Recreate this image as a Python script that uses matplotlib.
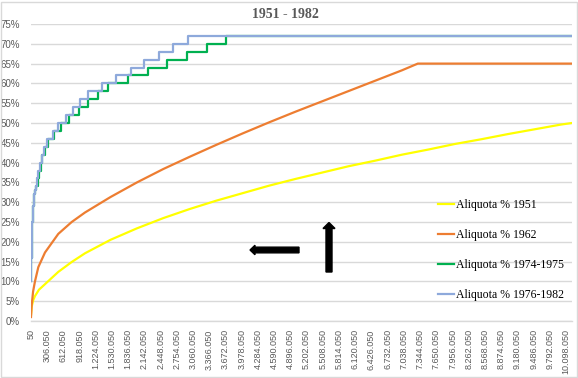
import numpy as np
import matplotlib
matplotlib.use("Agg")
import matplotlib.pyplot as plt
from matplotlib.patches import FancyArrow, Rectangle

# income (lire) vs tax rate (%)
x_end = 10210050

inc_1951 = [50, 13050, 40050, 75050, 150050, 264050, 515050, 768050, 1019050,
            1500050, 2000050, 2500050, 3000050, 3500050, 4000050, 4500050,
            5000050, 5500050, 6000050, 6500050, 7000050, 7500050, 8000050,
            8500050, 9000050, 9500050, 10000050, 10210050]
rate_1951 = [1.5, 3.6, 5.2, 6.3, 7.9, 9.3, 12.4, 14.9, 17.1,
             20.5, 23.4, 26.0, 28.3, 30.4, 32.3, 34.2,
             35.9, 37.5, 39.1, 40.5, 42.0, 43.3, 44.7,
             45.9, 47.2, 48.4, 49.6, 50.0]

inc_1962 = [50, 13050, 40050, 75050, 138050, 264050, 515050, 768050, 1019050,
            1500050, 2000050, 2500050, 3000050, 3500050, 4000050, 4500050,
            5000050, 5500050, 6000050, 6500050, 7000050, 7300050, 10210050]
rate_1962 = [1.0, 4.0, 7.5, 10.0, 13.6, 17.3, 22.0, 25.0, 27.4,
             31.3, 35.0, 38.4, 41.5, 44.5, 47.4, 50.2,
             52.9, 55.5, 58.1, 60.7, 63.3, 65.0, 65.0]

# step schedules: income where each rate starts
inc_1974 = [50, 3050, 6050, 11050, 16050, 24050, 30050, 38050, 48050, 60050,
            75050, 100050, 130050, 150050, 180050, 215050, 265050, 320050,
            440050, 560050, 723050, 906050, 1085050, 1270050, 1459050,
            1825050, 2203050, 2573050, 2939050, 3316050, 3681050]
rate_1974 = [10, 13, 16, 19, 22, 25, 27, 29, 31, 32,
             33, 34, 36, 38, 40, 42, 44, 46,
             48, 50, 52, 54, 56, 58, 60,
             62, 64, 66, 68, 70, 72]

inc_1976 = [50, 3050, 6050, 11050, 16050, 24050, 30050, 38050, 48050, 58050,
            72050, 95050, 120050, 140050, 165050, 200050, 245050, 300050,
            421050, 515050, 655050, 787050, 925050, 1070050, 1334050,
            1599050, 1882050, 2139050, 2416050, 2686050, 2958050]
rate_1976 = [10, 13, 16, 19, 22, 25, 27, 29, 31, 32,
             33, 34, 36, 38, 40, 42, 44, 46,
             48, 50, 52, 54, 56, 58, 60,
             62, 64, 66, 68, 70, 72]

labels = ["Aliquota % 1951", "Aliquota % 1962",
          "Aliquota % 1974-1975", "Aliquota % 1976-1982"]
colors = ["#FFFF00", "#ED7D31", "#00B050", "#8EA9DB"]

tick_step = 306000
n_ticks = 34

fig = plt.figure(figsize=(5.78, 3.78), dpi=100)
ax = fig.add_axes([31 / 578, 1 - 321 / 378, 541 / 578, 297 / 378])

lw = 1.6
ax.plot(inc_1951, rate_1951, color=colors[0], lw=lw, label=labels[0])
ax.plot(inc_1962, rate_1962, color=colors[1], lw=lw, label=labels[1])
ax.plot(inc_1974 + [x_end], rate_1974 + [rate_1974[-1]], color=colors[2],
        lw=lw, drawstyle="steps-post", label=labels[2])
ax.plot(inc_1976 + [x_end], rate_1976 + [rate_1976[-1]], color=colors[3],
        lw=lw, drawstyle="steps-post", label=labels[3])

ax.set_xlim(50, x_end)
ax.set_ylim(0, 75)
ax.set_yticks(np.arange(0, 76, 5))
ax.set_yticklabels([f"{v}%" for v in range(0, 76, 5)])
ticks = [50 + tick_step * k for k in range(n_ticks)]
ax.set_xticks(ticks)
ax.set_xticklabels([f"{t:,}".replace(",", ".") for t in ticks], rotation=90)
ax.tick_params(axis="y", length=0, pad=8, labelsize=7, labelcolor="#595959")
ax.tick_params(axis="x", length=0, pad=6, labelsize=6.5, labelcolor="#595959")
for lab in ax.get_xticklabels() + ax.get_yticklabels():
    lab.set_fontfamily("Liberation Sans")

ax.grid(axis="y", color="#d9d9d9", lw=1.0)
ax.set_axisbelow(True)
for s in ["top", "right", "left"]:
    ax.spines[s].set_visible(False)
ax.spines["bottom"].set_color("#d9d9d9")
ax.spines["bottom"].set_linewidth(1.0)

fig.text(285 / 578, 1 - 15 / 378, "1951 - 1982", ha="center", va="center",
         fontsize=10, fontweight="bold", color="#595959",
         family="Liberation Serif")

fig.legend(loc="upper left", bbox_to_anchor=(438 / 578, 1 - 199 / 378),
           frameon=False, borderpad=0, borderaxespad=0, handlelength=1.35,
           handletextpad=0.2, labelspacing=1.52,
           prop={"family": "Liberation Serif", "size": 8.5})

# the two black arrows
fig.add_artist(FancyArrow(2.99, 1.28, -0.49, 0, width=0.057, head_width=0.095,
                          head_length=0.05, length_includes_head=True,
                          color="black", transform=fig.dpi_scale_trans))
fig.add_artist(FancyArrow(3.29, 1.06, 0, 0.495, width=0.06, head_width=0.12,
                          head_length=0.06, length_includes_head=True,
                          color="black", transform=fig.dpi_scale_trans))

fig.add_artist(Rectangle((0.5 / 578, 1.5 / 378), 576 / 578, 375 / 378,
                         transform=fig.transFigure, fill=False,
                         ec="#d9d9d9", lw=1.0))

fig.savefig("out.png", dpi=100)
